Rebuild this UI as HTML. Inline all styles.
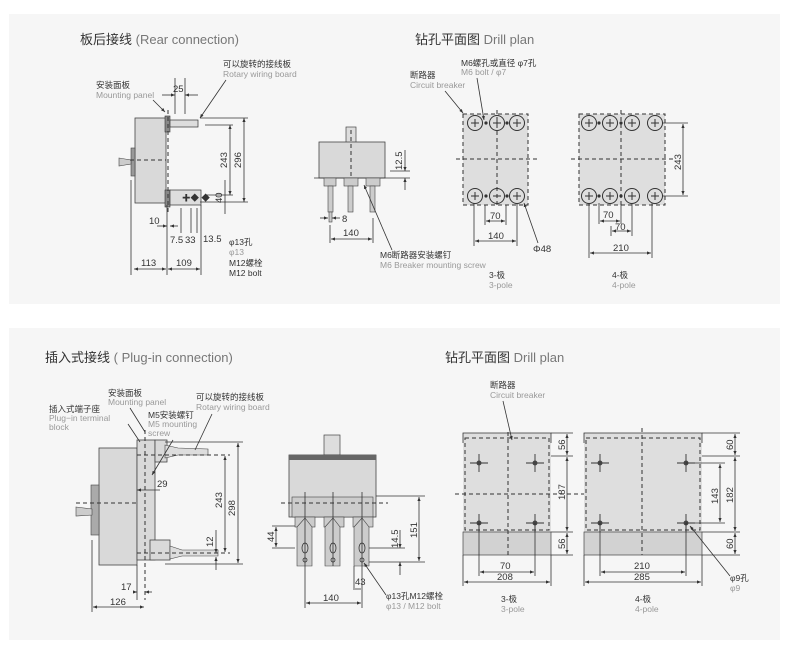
<!DOCTYPE html>
<html><head><meta charset="utf-8"><style>
html,body{margin:0;padding:0;background:#fff;}
svg{display:block;font-family:"Liberation Sans","Noto Sans CJK SC",sans-serif;}
.c{fill:#333;font-size:8.5px}
.e{fill:#999;font-size:8.5px}
.d{fill:#333;font-size:9.5px}
.t{fill:#333;font-size:13px}
.te{fill:#777;font-size:13px}
.l{stroke:#333;stroke-width:0.8;fill:none}
.ds{stroke:#333;stroke-width:1;fill:none;stroke-dasharray:4 3}
.b{fill:#d9d9d9;stroke:#444;stroke-width:0.8}
</style></head><body>
<svg width="789" height="655" viewBox="0 0 789 655" xmlns="http://www.w3.org/2000/svg">
<defs><marker id="a" markerWidth="6" markerHeight="6" refX="5" refY="3" orient="auto-start-reverse"><path d="M0,1 L5,3 L0,5 Z" fill="#333"/></marker>
<g id="p"><circle r="7.5" fill="none" stroke="#333" stroke-width="1"/><path d="M-4,0 H4 M0,-4 V4" stroke="#333" stroke-width="1"/></g>
<g id="m"><circle r="7.5" fill="none" stroke="#333" stroke-width="1"/><path d="M-4,0 H4" stroke="#333" stroke-width="1"/></g>
<g id="x"><path d="M-9,0 H9 M0,-9 V9" stroke="#333" stroke-width=".9"/><circle r="2.5" fill="#444"/></g>
</defs>
<rect x="9" y="14" width="771" height="290" fill="#f6f6f6"/>
<rect x="9" y="328" width="771" height="312" fill="#f6f6f6"/>

<text x="80" y="44" class="t">板后接线 <tspan class="te">(Rear connection)</tspan></text>
<text x="415" y="44" class="t">钻孔平面图 <tspan class="te">Drill plan</tspan></text>
<text x="45" y="362" class="t">插入式接线 <tspan class="te">( Plug-in connection)</tspan></text>
<text x="445" y="362" class="t">钻孔平面图 <tspan class="te">Drill plan</tspan></text>

<!-- Top left side view -->
<rect x="135" y="118" width="31" height="85" class="b"/>
<rect x="131" y="148" width="4" height="28" fill="#999" stroke="#444" stroke-width=".6"/>
<path d="M119,158 L131,160 L131,164 L119,166 Z" fill="#ccc" stroke="#444" stroke-width=".6"/>
<line x1="130" y1="160" x2="166" y2="160" class="ds"/>
<rect x="165" y="116" width="5" height="16" fill="#888" stroke="#333" stroke-width=".6"/>
<rect x="165" y="190" width="5" height="17" fill="#888" stroke="#333" stroke-width=".6"/>
<line x1="168" y1="110" x2="168" y2="212" class="ds"/>
<rect x="170" y="120" width="28" height="7" fill="#ddd" stroke="#333" stroke-width=".7"/>
<rect x="170" y="190" width="31" height="15" fill="#ddd" stroke="#333" stroke-width=".7"/>
<text x="182" y="201" class="c">✚◆ ◆</text>
<line x1="131" y1="180" x2="131" y2="275" class="l"/>
<line x1="167" y1="205" x2="167" y2="275" class="l"/>
<line x1="201" y1="205" x2="201" y2="275" class="l"/>
<line x1="200" y1="118" x2="248" y2="118" class="l"/><line x1="200" y1="202" x2="248" y2="202" class="l"/>
<line x1="205" y1="125" x2="233" y2="125" class="l"/><line x1="205" y1="195" x2="233" y2="195" class="l"/>
<line x1="244" y1="118" x2="244" y2="202" class="l" marker-start="url(#a)" marker-end="url(#a)"/>
<line x1="230" y1="125" x2="230" y2="195" class="l" marker-start="url(#a)" marker-end="url(#a)"/>
<text transform="translate(241,168) rotate(-90)" class="d">296</text>
<text transform="translate(227,168) rotate(-90)" class="d">243</text>
<line x1="225" y1="180" x2="225" y2="214" class="l"/>
<text transform="translate(222,203) rotate(-90)" class="d">40</text>
<line x1="175" y1="78" x2="175" y2="114" class="l"/><line x1="185" y1="78" x2="185" y2="114" class="l"/>
<text x="173" y="92" class="d">25</text>
<line x1="162" y1="95" x2="175" y2="95" class="l" marker-end="url(#a)"/><line x1="198" y1="95" x2="185" y2="95" class="l" marker-end="url(#a)"/>
<text x="96" y="88" class="c">安装面板</text><text x="96" y="98" class="e">Mounting panel</text>
<line x1="153" y1="100" x2="165" y2="112" class="l" marker-end="url(#a)"/>
<text x="223" y="67" class="c">可以旋转的接线板</text><text x="223" y="77" class="e">Rotary wiring board</text>
<line x1="226" y1="80" x2="200" y2="118" class="l" marker-end="url(#a)"/>
<text x="149" y="224" class="d">10</text>
<line x1="157" y1="226" x2="167" y2="226" class="l" marker-end="url(#a)"/><line x1="178" y1="226" x2="170" y2="226" class="l" marker-end="url(#a)"/>
<line x1="181" y1="208" x2="181" y2="233" class="l"/><line x1="191" y1="208" x2="191" y2="233" class="l"/><line x1="197" y1="208" x2="197" y2="233" class="l"/>
<text x="170" y="243" class="d">7.5</text><text x="185" y="243" class="d">33</text><text x="203" y="242" class="d">13.5</text>
<line x1="134" y1="269" x2="166" y2="269" class="l" marker-start="url(#a)" marker-end="url(#a)"/>
<line x1="168" y1="269" x2="200" y2="269" class="l" marker-start="url(#a)" marker-end="url(#a)"/>
<text x="141" y="266" class="d">113</text><text x="176" y="266" class="d">109</text>
<text x="229" y="245" class="c">φ13孔</text><text x="229" y="255" class="e">φ13</text>
<text x="229" y="266" class="c">M12螺栓</text><text x="229" y="276" class="c">M12 bolt</text>

<!-- top middle front -->
<rect x="346" y="127" width="10" height="16" fill="#ddd" stroke="#444" stroke-width=".7"/>
<rect x="319" y="142" width="66" height="36" class="b"/>
<line x1="351" y1="130" x2="351" y2="178" class="ds"/>
<line x1="314" y1="178" x2="390" y2="178" class="l"/>
<g fill="#ccc" stroke="#444" stroke-width=".6">
<rect x="324" y="178" width="12" height="8"/><rect x="344" y="178" width="14" height="8"/><rect x="366" y="178" width="14" height="8"/>
<rect x="328" y="186" width="5" height="26"/><rect x="348" y="186" width="5" height="26"/><rect x="370" y="186" width="5" height="26"/>
<rect x="329" y="212" width="3" height="10"/></g>
<line x1="390" y1="178" x2="410" y2="178" class="l"/><line x1="390" y1="171" x2="410" y2="171" class="l"/>
<line x1="405" y1="150" x2="405" y2="171" class="l" marker-end="url(#a)"/><line x1="405" y1="190" x2="405" y2="178" class="l" marker-end="url(#a)"/>
<text transform="translate(402,170) rotate(-90)" class="d">12.5</text>
<text x="342" y="222" class="d">8</text>
<line x1="320" y1="218" x2="328" y2="218" class="l" marker-end="url(#a)"/><line x1="340" y1="218" x2="332" y2="218" class="l" marker-end="url(#a)"/>
<line x1="330" y1="225" x2="330" y2="243" class="l"/><line x1="373" y1="218" x2="373" y2="243" class="l"/>
<line x1="331" y1="239" x2="372" y2="239" class="l" marker-start="url(#a)" marker-end="url(#a)"/>
<text x="343" y="236" class="d">140</text>
<line x1="392" y1="250" x2="364" y2="185" class="l" marker-end="url(#a)"/>
<text x="380" y="258" class="c">M6断路器安装螺钉</text><text x="380" y="268" class="e">M6 Breaker mounting screw</text>

<!-- drill plan 3 pole -->
<rect x="463" y="114" width="65" height="91" fill="#dedede"/>
<rect x="463" y="114" width="65" height="91" class="ds"/>
<line x1="456" y1="159" x2="538" y2="159" class="ds"/>
<line x1="497" y1="110" x2="497" y2="208" class="ds"/>
<!-- drill plan 4 pole -->
<rect x="579" y="114" width="86" height="91" fill="#dedede"/>
<rect x="579" y="114" width="86" height="91" class="ds"/>
<line x1="571" y1="159" x2="673" y2="159" class="ds"/>
<line x1="621" y1="110" x2="621" y2="208" class="ds"/>
<use href="#p" x="475" y="123"/><use href="#p" x="497" y="123"/><use href="#p" x="517" y="123"/>
<use href="#p" x="475" y="196"/><use href="#m" x="497" y="196"/><use href="#p" x="517" y="196"/>
<use href="#p" x="589" y="123"/><use href="#p" x="610" y="123"/><use href="#p" x="632" y="123"/><use href="#p" x="655" y="123"/>
<use href="#p" x="589" y="196"/><use href="#p" x="610" y="196"/><use href="#p" x="632" y="196"/><use href="#p" x="655" y="196"/>
<g fill="#333"><circle cx="486" cy="123" r="1.6"/><circle cx="507" cy="123" r="1.6"/><circle cx="486" cy="196" r="1.6"/><circle cx="507" cy="196" r="1.6"/>
<circle cx="599" cy="123" r="1.6"/><circle cx="621" cy="123" r="1.6"/><circle cx="599" cy="196" r="1.6"/><circle cx="621" cy="196" r="1.6"/></g>
<line x1="474" y1="203" x2="474" y2="246" class="l"/><line x1="517" y1="203" x2="517" y2="246" class="l"/>
<line x1="485" y1="205" x2="485" y2="225" class="l"/><line x1="506" y1="205" x2="506" y2="225" class="l"/>
<line x1="486" y1="221" x2="505" y2="221" class="l" marker-start="url(#a)" marker-end="url(#a)"/>
<line x1="475" y1="241" x2="516" y2="241" class="l" marker-start="url(#a)" marker-end="url(#a)"/>
<text x="490" y="219" class="d">70</text><text x="488" y="239" class="d">140</text>
<line x1="538" y1="243" x2="524" y2="203" class="l" marker-end="url(#a)"/>
<text x="533" y="252" class="d">Φ48</text>
<text x="410" y="78" class="c">断路器</text><text x="410" y="88" class="e">Circuit breaker</text>
<line x1="445" y1="91" x2="463" y2="113" class="l" marker-end="url(#a)"/>
<text x="461" y="66" class="c">M6螺孔或直径 φ7孔</text><text x="461" y="75" class="e">M6 bolt / φ7</text>
<line x1="477" y1="78" x2="484" y2="120" class="l" marker-end="url(#a)"/>
<text x="489" y="278" class="c">3-极</text><text x="489" y="288" class="e">3-pole</text>

<line x1="662" y1="123" x2="688" y2="123" class="l"/><line x1="662" y1="196" x2="688" y2="196" class="l"/>
<line x1="683" y1="124" x2="683" y2="195" class="l" marker-start="url(#a)" marker-end="url(#a)"/>
<text transform="translate(681,170) rotate(-90)" class="d">243</text>
<line x1="589" y1="203" x2="589" y2="258" class="l"/><line x1="652" y1="203" x2="652" y2="258" class="l"/>
<line x1="599" y1="203" x2="599" y2="224" class="l"/><line x1="621" y1="203" x2="621" y2="224" class="l"/><line x1="611" y1="226" x2="611" y2="236" class="l"/><line x1="632" y1="203" x2="632" y2="236" class="l"/>
<line x1="600" y1="221" x2="620" y2="221" class="l" marker-start="url(#a)" marker-end="url(#a)"/>
<line x1="612" y1="231" x2="631" y2="231" class="l" marker-start="url(#a)" marker-end="url(#a)"/>
<line x1="590" y1="253" x2="651" y2="253" class="l" marker-start="url(#a)" marker-end="url(#a)"/>
<text x="603" y="218" class="d">70</text><text x="615" y="230" class="d">70</text><text x="613" y="251" class="d">210</text>
<text x="612" y="278" class="c">4-极</text><text x="612" y="288" class="e">4-pole</text>

<!-- Bottom left side view -->
<rect x="99" y="448" width="38" height="117" class="b"/>
<rect x="91" y="485" width="8" height="50" fill="#aaa" stroke="#444" stroke-width=".6"/>
<path d="M76,507 L92,509 L92,515 L76,516 Z" fill="#ccc" stroke="#444" stroke-width=".6"/>
<line x1="76" y1="503" x2="137" y2="503" class="ds"/>
<rect x="137" y="440" width="18" height="120" class="b"/>
<rect x="155" y="440" width="12" height="22" class="b"/>
<rect x="150" y="540" width="20" height="20" class="b"/>
<line x1="145" y1="430" x2="145" y2="600" class="ds"/>
<path d="M165,445 L178,448 L208,449 L208,455 L178,455 L165,458 Z" fill="#ddd" stroke="#444" stroke-width=".6"/>
<path d="M170,546 L182,550 L218,550 L218,556 L182,556 L170,559 Z" fill="#ddd" stroke="#444" stroke-width=".6"/>
<line x1="137" y1="455" x2="230" y2="455" class="ds"/><line x1="137" y1="553" x2="230" y2="553" class="ds"/>
<line x1="165" y1="442" x2="243" y2="442" class="l"/><line x1="165" y1="564" x2="243" y2="564" class="l"/>
<line x1="238" y1="443" x2="238" y2="563" class="l" marker-start="url(#a)" marker-end="url(#a)"/>
<line x1="225" y1="456" x2="225" y2="552" class="l" marker-start="url(#a)" marker-end="url(#a)"/>
<line x1="216" y1="530" x2="216" y2="553" class="l" marker-end="url(#a)"/><line x1="216" y1="570" x2="216" y2="557" class="l" marker-end="url(#a)"/>
<text transform="translate(235,516) rotate(-90)" class="d">298</text>
<text transform="translate(222,508) rotate(-90)" class="d">243</text>
<text transform="translate(213,547) rotate(-90)" class="d">12</text>
<line x1="137" y1="490" x2="160" y2="490" class="l" marker-start="url(#a)"/>
<text x="157" y="487" class="d">29</text>
<line x1="137" y1="565" x2="137" y2="600" class="l"/><line x1="92" y1="540" x2="92" y2="612" class="l"/>
<line x1="133" y1="592" x2="137" y2="592" class="l" marker-end="url(#a)"/><line x1="152" y1="592" x2="145" y2="592" class="l" marker-end="url(#a)"/>
<text x="121" y="590" class="d">17</text>
<line x1="93" y1="607" x2="144" y2="607" class="l" marker-start="url(#a)" marker-end="url(#a)"/>
<text x="110" y="605" class="d">126</text>
<text x="108" y="396" class="c">安装面板</text><text x="108" y="405" class="e">Mounting panel</text>
<text x="49" y="412" class="c">插入式端子座</text><text x="49" y="421" class="e">Plug−in terminal</text><text x="49" y="430" class="e">block</text>
<text x="148" y="418" class="c">M5安装螺钉</text><text x="148" y="427" class="e">M5 mounting</text><text x="148" y="436" class="e">screw</text>
<text x="196" y="400" class="c">可以旋转的接线板</text><text x="196" y="410" class="e">Rotary wiring board</text>
<line x1="128" y1="424" x2="140" y2="442" class="l"/>
<line x1="130" y1="408" x2="145" y2="432" class="l"/>
<line x1="173" y1="440" x2="152" y2="475" class="l" marker-end="url(#a)"/>
<line x1="212" y1="414" x2="195" y2="450" class="l"/>

<!-- bottom middle front -->
<rect x="324" y="435" width="16" height="20" fill="#ddd" stroke="#444" stroke-width=".7"/>
<rect x="289" y="455" width="87" height="62" class="b"/>
<rect x="289" y="455" width="87" height="5" fill="#666"/>
<g fill="#ccc" stroke="#444" stroke-width=".6">
<rect x="292" y="497" width="81" height="20"/>
<rect x="295" y="517" width="20" height="10"/><rect x="324" y="517" width="20" height="10"/><rect x="353" y="517" width="20" height="10"/>
<path d="M297,527 L305,518 L312,527 L312,566 L297,566 Z"/>
<path d="M325,527 L333,518 L340,527 L340,566 L325,566 Z"/>
<path d="M354,527 L362,518 L369,527 L369,566 L354,566 Z"/>
</g>
<g fill="none" stroke="#333" stroke-width=".8">
<ellipse cx="305" cy="548" rx="3" ry="5"/><ellipse cx="333" cy="548" rx="3" ry="5"/><ellipse cx="362" cy="548" rx="3" ry="5"/>
<circle cx="305" cy="560" r="2"/><circle cx="333" cy="560" r="2"/><circle cx="362" cy="560" r="2"/></g>
<line x1="281" y1="503" x2="388" y2="503" class="ds"/>
<line x1="305" y1="492" x2="305" y2="608" class="l"/><line x1="333" y1="492" x2="333" y2="566" class="l"/><line x1="362" y1="492" x2="362" y2="608" class="l"/>
<line x1="272" y1="526" x2="295" y2="526" class="l"/><line x1="272" y1="548" x2="295" y2="548" class="l"/>
<line x1="276" y1="527" x2="276" y2="547" class="l" marker-start="url(#a)" marker-end="url(#a)"/>
<text transform="translate(274,542) rotate(-90)" class="d">44</text>
<line x1="369" y1="548" x2="405" y2="548" class="l"/><line x1="369" y1="562" x2="425" y2="562" class="l"/><line x1="376" y1="496" x2="425" y2="496" class="l"/>
<line x1="400" y1="530" x2="400" y2="548" class="l" marker-end="url(#a)"/><line x1="400" y1="575" x2="400" y2="562" class="l" marker-end="url(#a)"/>
<text transform="translate(398,548) rotate(-90)" class="d">14.5</text>
<line x1="419" y1="497" x2="419" y2="561" class="l" marker-start="url(#a)" marker-end="url(#a)"/>
<text transform="translate(417,538) rotate(-90)" class="d">151</text>
<line x1="354" y1="566" x2="354" y2="590" class="l"/>
<line x1="355" y1="589" x2="361" y2="589" class="l"/>
<text x="355" y="585" class="d">43</text>
<line x1="306" y1="603" x2="361" y2="603" class="l" marker-start="url(#a)" marker-end="url(#a)"/>
<text x="323" y="601" class="d">140</text>
<line x1="386" y1="595" x2="364" y2="563" class="l" marker-end="url(#a)"/>
<text x="386" y="599" class="c">φ13孔M12螺栓</text><text x="386" y="609" class="e">φ13 / M12 bolt</text>

<!-- bottom right drill plans -->
<rect x="463" y="433" width="88" height="100" fill="#dedede"/>
<rect x="463" y="532" width="88" height="23" fill="#d2d2d2" stroke="#444" stroke-width=".7"/>
<path d="M463,443 L463,433 L551,433 L551,443" class="l"/>
<rect x="465" y="438" width="84" height="92" class="ds"/>
<line x1="455" y1="494" x2="585" y2="494" class="ds"/>
<line x1="508" y1="432" x2="508" y2="555" class="ds"/>
<rect x="584" y="433" width="118" height="100" fill="#dedede"/>
<rect x="584" y="532" width="118" height="23" fill="#d2d2d2" stroke="#444" stroke-width=".7"/>
<path d="M584,443 L584,433 L702,433 L702,443" class="l"/>
<rect x="586" y="438" width="114" height="92" class="ds"/>
<line x1="642" y1="428" x2="642" y2="555" class="ds"/>
<use href="#x" x="479" y="463"/><use href="#x" x="535" y="463"/><use href="#x" x="479" y="523"/><use href="#x" x="535" y="523"/>
<use href="#x" x="600" y="463"/><use href="#x" x="686" y="463"/><use href="#x" x="600" y="523"/><use href="#x" x="686" y="523"/>
<line x1="686" y1="463" x2="725" y2="463" class="l"/><line x1="686" y1="523" x2="725" y2="523" class="l"/>

<line x1="551" y1="433" x2="573" y2="433" class="l"/><line x1="551" y1="456" x2="573" y2="456" class="l"/><line x1="551" y1="532" x2="573" y2="532" class="l"/><line x1="551" y1="555" x2="573" y2="555" class="l"/>
<line x1="567" y1="434" x2="567" y2="455" class="l" marker-start="url(#a)" marker-end="url(#a)"/>
<line x1="567" y1="457" x2="567" y2="531" class="l" marker-start="url(#a)" marker-end="url(#a)"/>
<line x1="567" y1="533" x2="567" y2="554" class="l" marker-start="url(#a)" marker-end="url(#a)"/>
<text transform="translate(565,450) rotate(-90)" class="d">56</text>
<text transform="translate(565,500) rotate(-90)" class="d">187</text>
<text transform="translate(565,549) rotate(-90)" class="d">56</text>
<line x1="479" y1="523" x2="479" y2="576" class="l"/><line x1="535" y1="523" x2="535" y2="576" class="l"/>
<line x1="463" y1="555" x2="463" y2="586" class="l"/><line x1="551" y1="555" x2="551" y2="586" class="l"/>
<line x1="480" y1="572" x2="534" y2="572" class="l" marker-start="url(#a)" marker-end="url(#a)"/>
<line x1="464" y1="582" x2="550" y2="582" class="l" marker-start="url(#a)" marker-end="url(#a)"/>
<text x="500" y="569" class="d">70</text><text x="497" y="580" class="d">208</text>
<text x="490" y="388" class="c">断路器</text><text x="490" y="398" class="e">Circuit breaker</text>
<line x1="503" y1="401" x2="512" y2="440" class="l" marker-end="url(#a)"/>
<text x="501" y="602" class="c">3-极</text><text x="501" y="612" class="e">3-pole</text>

<line x1="702" y1="433" x2="740" y2="433" class="l"/><line x1="702" y1="456" x2="740" y2="456" class="l"/><line x1="702" y1="532" x2="740" y2="532" class="l"/><line x1="702" y1="555" x2="740" y2="555" class="l"/>
<line x1="735" y1="434" x2="735" y2="455" class="l" marker-start="url(#a)" marker-end="url(#a)"/>
<line x1="735" y1="457" x2="735" y2="531" class="l" marker-start="url(#a)" marker-end="url(#a)"/>
<line x1="735" y1="533" x2="735" y2="554" class="l" marker-start="url(#a)" marker-end="url(#a)"/>
<line x1="720" y1="464" x2="720" y2="522" class="l" marker-start="url(#a)" marker-end="url(#a)"/>
<text transform="translate(733,450) rotate(-90)" class="d">60</text>
<text transform="translate(733,503) rotate(-90)" class="d">182</text>
<text transform="translate(718,504) rotate(-90)" class="d">143</text>
<text transform="translate(733,549) rotate(-90)" class="d">60</text>
<line x1="600" y1="523" x2="600" y2="576" class="l"/><line x1="686" y1="523" x2="686" y2="576" class="l"/>
<line x1="584" y1="555" x2="584" y2="586" class="l"/><line x1="702" y1="555" x2="702" y2="586" class="l"/>
<line x1="601" y1="572" x2="685" y2="572" class="l" marker-start="url(#a)" marker-end="url(#a)"/>
<line x1="585" y1="582" x2="701" y2="582" class="l" marker-start="url(#a)" marker-end="url(#a)"/>
<text x="634" y="569" class="d">210</text><text x="634" y="580" class="d">285</text>
<line x1="730" y1="576" x2="690" y2="526" class="l" marker-end="url(#a)"/>
<text x="730" y="581" class="c">φ9孔</text><text x="730" y="591" class="e">φ9</text>
<text x="635" y="602" class="c">4-极</text><text x="635" y="612" class="e">4-pole</text>
</svg>
</body></html>
